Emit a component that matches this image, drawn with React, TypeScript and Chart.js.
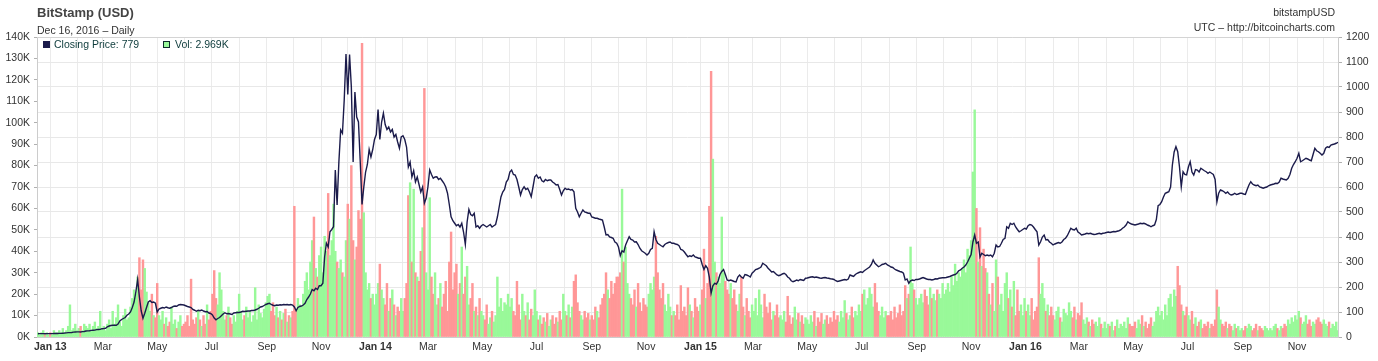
import { useEffect, useRef } from 'react';
import { Chart, registerables } from 'chart.js';

Chart.register(...registerables);

// Two-day bins starting Dec 17, 2012 (bin i covers days 2i and 2i+1)
// Closing price, USD
const close2013 = [
  13.1, 13.3, 13.4, 13.4, 13.3, 13.4, 13.5,
  13.4, 13.6, 13.8, 14.1, 14.2, 14.3, 14.5, 15.2, 15.8, 16.7, 17.4, 17.6, 17.9, 19.3, 19.8, 20.4,
  20.5, 20.3, 21.3, 22.0, 24.0, 24.7, 25.0, 26.5, 27.0, 27.6, 29.7, 30.2, 30.5, 33.2,
  34, 35, 41, 44, 46, 47, 47, 47, 52, 64, 70, 74, 78, 87, 92,
  100, 118, 140, 180, 230, 160, 105, 75, 95, 118, 140, 145, 138, 140, 135,
  100, 112, 115, 118, 116, 120, 117, 115, 118, 122, 124, 123, 128, 130, 129, 128,
  125, 122, 120, 118, 110, 107, 103, 107, 105, 108, 104, 101, 102, 96, 94,
  88, 76, 69, 74, 78, 85, 92, 97, 93, 94, 92, 90, 96, 97, 98,
  98, 100, 103, 102, 103, 104, 104, 106, 106, 108, 111, 115, 120, 122, 126, 130,
  133, 135, 130, 127, 125, 128, 127, 129, 128, 130, 129, 130, 128, 130, 128,
  120, 105, 118, 122, 124, 128, 135, 150, 160, 172, 190, 185, 195, 190, 205,
  205, 215, 321, 375, 360, 421, 430, 441, 668, 528, 700, 828, 815, 948, 1132,
  970, 1130, 1000, 700, 980, 880, 860, 700, 530, 600, 660, 690, 750, 720, 750, 790,
];
const close2014 = [
  810, 910, 790, 860, 895, 850, 830, 840, 820, 830, 800, 810, 780, 755, 800,
  805, 790, 760, 680, 700, 640, 665, 620, 640, 610, 580, 600, 535, 555,
  600, 668, 650, 635, 640, 641, 630, 635, 625, 615, 600, 575, 530, 481, 465, 455,
  445, 450, 440, 455, 420, 370, 460, 510, 490, 485, 495, 440, 445, 435, 445,
  450, 445, 440, 445, 450, 440, 445, 450, 480, 520, 560, 580, 590, 620, 630,
  660, 668, 650, 648, 630, 600, 568, 590, 601, 590, 595, 580, 561, 600, 641,
  648, 635, 640, 625, 621, 630, 625, 628, 628, 620, 615, 608, 610, 590, 568, 585,
  595, 590, 592, 588, 590, 581, 515, 500, 481, 495, 508, 500, 498, 495, 495,
  480, 478, 475, 475, 472, 470, 468, 440, 408, 410, 400, 398, 395, 380, 375,
  360, 325, 345, 340, 368, 385, 401, 390, 388, 380, 381, 370, 355, 345, 340, 335,
  328, 335, 350, 355, 421, 390, 375, 370, 365, 361, 370, 375, 378, 380, 375,
  375, 372, 370, 365, 350, 348, 340, 330, 321, 325, 322, 328, 320, 318, 315,
];
const close2015 = [
  315, 290, 270, 285, 275, 240, 175, 205, 215, 212, 225, 250, 262, 270, 250, 228,
  225, 228, 225, 222, 220, 240, 248, 240, 235, 250, 248, 245, 240, 255,
  262, 270, 272, 275, 280, 295, 290, 285, 275, 268, 260, 262, 255, 248, 245,
  248, 252, 255, 250, 240, 235, 225, 221, 224, 228, 225, 230, 228, 226, 235,
  236, 238, 240, 241, 238, 240, 238, 236, 235, 237, 238, 236, 235, 233, 232, 230,
  225, 222, 224, 226, 228, 230, 228, 232, 248, 245, 242, 250, 255, 258, 261,
  258, 265, 270, 275, 280, 290, 308, 295, 288, 281, 285, 290, 292, 295, 288,
  285, 280, 278, 272, 268, 265, 262, 260, 255, 228, 232, 215, 225, 228, 226, 230,
  230, 232, 235, 238, 235, 232, 230, 230, 228, 230, 233, 232, 235, 236, 237,
  237, 238, 240, 242, 245, 248, 250, 255, 265, 268, 275, 280, 288, 300, 315,
  330, 380, 408, 375, 380, 320, 335, 330, 325, 328, 325, 328, 321, 335, 368,
  360, 362, 375, 390, 395, 441, 435, 455, 450, 455, 440, 430, 421, 425, 430, 435,
];
const close2016 = [
  432, 445, 450, 448, 440, 430, 421, 368, 381, 400, 408, 388, 390, 380, 375,
  368, 372, 375, 378, 375, 380, 390, 395, 405, 420, 435, 430, 428, 435, 420,
  415, 408, 410, 412, 415, 413, 415, 412, 410, 411, 413, 415, 412, 415, 416,
  418, 420, 418, 420, 422, 421, 423, 425, 428, 435, 440, 448, 461, 455, 452,
  450, 448, 450, 452, 455, 453, 455, 452, 448, 445, 441, 445, 448, 470, 525, 530,
  541, 560, 575, 578, 581, 600, 688, 740, 761, 741, 680, 601, 661, 650, 648,
  680, 701, 660, 648, 670, 668, 660, 675, 670, 665, 661, 655, 660, 655, 650,
  630, 541, 575, 588, 585, 581, 575, 580, 572, 568, 570, 575, 570, 572, 575, 575,
  572, 570, 590, 608, 621, 612, 608, 605, 608, 600, 598, 595, 598, 600, 605,
  608, 610, 612, 615, 614, 620, 635, 632, 630, 628, 635, 650, 675, 690, 701,
  715, 735, 701, 705, 710, 715, 712, 708, 705, 730, 755, 745, 741, 735, 728,
  735, 755, 761, 758, 768, 770, 772, 775, 779,
];

// Volume, thousands of BTC
const vol2013 = [
  2, 1, 2, 3, 1, 2, 1,
  2, 1, 3, 2, 2, 3, 2, 4, 2, 3, 5, 15, 3, 4, 6, 3,
  4, 5, 3, 6, 5, 4, 6, 3, 5, 7, 4, 5, 12, 4,
  5, 3, 6, 8, 4, 12, 6, 9, 15, 7, 5, 10, 13, 8, 9,
  14, 18, 22, 20, 28, 37, 22, 36, 32, 21, 16, 12, 20, 10, 9,
  25, 10, 8, 12, 6, 9, 5, 7, 14, 6, 8, 4, 7, 10, 5, 6,
  7, 10, 5, 27, 8, 6, 9, 12, 8, 5, 10, 6, 15, 8, 12,
  20, 31, 18, 15, 30, 22, 12, 8, 10, 14, 9, 6, 10, 7, 12,
  20, 12, 8, 10, 14, 9, 12, 7, 10, 23, 8, 15, 11, 9, 13, 16,
  19, 20, 12, 16, 10, 14, 9, 12, 8, 11, 13, 7, 10, 9, 12,
  61, 12, 18, 15, 14, 20, 26, 30, 22, 35, 45, 56, 32, 28, 38,
  42, 30, 47, 40, 67, 38, 45, 62, 40, 35, 32, 36, 30, 28, 45,
  62, 55, 80, 45, 36, 42, 59, 55, 137, 58, 30, 22, 25, 18, 20, 15,
];
const vol2014 = [
  20, 25, 34, 22, 18, 15, 25, 12, 18, 22, 15, 10, 14, 12, 18,
  12, 18, 25, 66, 72, 35, 69, 30, 28, 26, 40, 51, 116, 30,
  22, 65, 28, 20, 30, 15, 18, 25, 14, 20, 26, 12, 35, 49, 22, 30,
  34, 20, 25, 42, 20, 28, 33, 15, 18, 25, 12, 14, 10, 18, 12,
  10, 8, 15, 6, 9, 12, 7, 10, 28, 14, 18, 12, 16, 15, 20,
  14, 18, 12, 10, 26, 15, 8, 20, 12, 10, 16, 8, 13, 10, 22,
  12, 8, 10, 6, 9, 7, 11, 5, 8, 10, 6, 9, 7, 12, 8, 20,
  12, 10, 15, 9, 14, 26, 29, 16, 12, 10, 8, 12, 9, 11, 8,
  10, 8, 14, 12, 9, 15, 18, 20, 30, 22, 18, 26, 20, 25, 28,
  28, 30, 69, 35, 42, 25, 20, 18, 15, 22, 14, 25, 16, 12, 18, 15,
  14, 20, 25, 22, 28, 47, 30, 22, 18, 25, 15, 12, 20, 14, 10,
  12, 10, 15, 8, 24, 12, 14, 10, 23, 15, 12, 9, 18, 14, 12,
];
const vol2015 = [
  15, 22, 41, 18, 25, 61, 124, 83, 35, 30, 28, 25, 56, 30, 26, 22,
  20, 25, 18, 22, 15, 12, 20, 28, 14, 10, 18, 12, 9, 15,
  12, 18, 10, 22, 15, 9, 20, 14, 11, 16, 8, 12, 10, 15, 9,
  10, 8, 12, 7, 19, 10, 6, 9, 14, 8, 11, 7, 10, 6, 9,
  8, 6, 10, 7, 12, 5, 9, 7, 11, 6, 8, 10, 6, 9, 7, 12,
  8, 10, 7, 12, 9, 17, 11, 8, 10, 14, 9, 12, 10, 15, 12,
  20, 22, 15, 18, 23, 20, 14, 25, 16, 12, 10, 14, 9, 12, 10,
  10, 12, 8, 14, 9, 11, 15, 10, 12, 24, 18, 20, 42, 25, 22, 18,
  15, 18, 20, 16, 22, 19, 15, 23, 18, 20, 17, 22, 20, 18, 25,
  20, 22, 25, 21, 28, 24, 34, 26, 30, 28, 32, 36, 30, 41, 38,
  45, 77, 106, 60, 35, 51, 33, 41, 32, 30, 20, 15, 25, 12, 36,
  28, 15, 20, 12, 25, 30, 18, 22, 14, 26, 10, 22, 12, 15, 10, 18,
];
const vol2016 = [
  12, 15, 10, 18, 8, 12, 14, 37, 20, 25, 18, 12, 15, 10, 14,
  10, 8, 12, 14, 9, 7, 13, 11, 10, 16, 12, 9, 14, 8, 11,
  10, 16, 8, 6, 9, 7, 5, 8, 6, 7, 5, 9, 6, 4, 7,
  4, 6, 5, 7, 3, 5, 8, 4, 6, 5, 7, 4, 9, 6, 5,
  5, 7, 4, 8, 6, 10, 5, 7, 4, 6, 9, 5, 7, 12, 14, 10,
  12, 8, 15, 10, 18, 20, 14, 22, 19, 33, 24, 15, 12, 10, 14,
  10, 8, 12, 6, 9, 5, 7, 8, 4, 6, 5, 7, 4, 6, 5,
  8, 22, 14, 8, 6, 5, 7, 4, 6, 5, 3, 6, 4, 5, 3, 4,
  3, 5, 4, 6, 5, 3, 4, 6, 3, 5, 4, 3, 5, 4, 3,
  4, 3, 5, 6, 4, 3, 5, 4, 6, 5, 8, 6, 9, 7, 10,
  8, 12, 9, 6, 7, 10, 6, 8, 5, 7, 6, 8, 9, 7, 6,
  8, 6, 5, 7, 4, 6, 5, 7, 3,
];

const volTicksK = [0, 140, 10];
const priceTicks = [0, 1200, 100];
const monthNames = ['Jan', 'Feb', 'Mar', 'Apr', 'May', 'Jun', 'Jul', 'Aug', 'Sep', 'Oct', 'Nov', 'Dec'];
const titleText = 'BitStamp (USD)';
const subtitleText = 'Dec 16, 2016 \u2013 Daily';
const rightTop = 'bitstampUSD';
const rightSub = 'UTC \u2013 http://bitcoincharts.com';
const legendPrice = 'Closing Price: 779';
const legendVol = 'Vol: 2.969K';

const FONT = '"Liberation Sans", Arial, Helvetica, sans-serif';
const NAVY = '#1b1b4b';
const GREEN = '#99f999';
const RED = '#ff9797';
const W = 1378;
const H = 361;

const START = Date.UTC(2012, 11, 17);
const DAY = 86400000;
const AXIS_END = 1461;

const monthTicks: { value: number; label: string; bold: boolean }[] = [];
for (let y = 2013; y <= 2016; y++) {
  for (let m = 0; m < 12; m++) {
    const d = (Date.UTC(y, m, 1) - START) / DAY;
    if (d <= AXIS_END) {
      const label = m % 2 === 0 ? (m === 0 ? `Jan ${String(y).slice(2)}` : monthNames[m]) : '';
      monthTicks.push({ value: d, label, bold: m === 0 });
    }
  }
}
const labelMap = new Map(monthTicks.map((t) => [t.value, t]));

export default function App() {
  const ref = useRef<HTMLCanvasElement | null>(null);

  useEffect(() => {
    if (!ref.current) return;
    const closes = [...close2013, ...close2014, ...close2015, ...close2016];
    const vols = [...vol2013, ...vol2014, ...vol2015, ...vol2016];
    const pricePts = closes.map((c, i) => ({ x: 2 * i + 1, y: c }));
    const volPts = vols.map((v, i) => ({ x: 2 * i + 1, y: v }));
    const volColors = closes.map((c, i) => (i === 0 || c >= closes[i - 1] ? GREEN : RED));

    const header = {
      id: 'header',
      afterDraw(chart: any) {
        const ctx = chart.ctx as CanvasRenderingContext2D;
        const a = chart.chartArea;
        ctx.save();
        ctx.strokeStyle = '#d4d4d4';
        ctx.lineWidth = 1;
        ctx.beginPath();
        ctx.moveTo(a.left, a.top + 0.5);
        ctx.lineTo(a.right, a.top + 0.5);
        ctx.stroke();

        ctx.textBaseline = 'alphabetic';
        ctx.textAlign = 'left';
        ctx.fillStyle = '#444';
        ctx.font = `bold 13px ${FONT}`;
        ctx.fillText(titleText, 37, 17);
        ctx.fillStyle = '#333';
        ctx.font = `10.5px ${FONT}`;
        ctx.fillText(subtitleText, 37, 34);
        ctx.textAlign = 'right';
        ctx.fillText(rightTop, 1335, 16);
        ctx.fillText(rightSub, 1335, 31);

        ctx.textAlign = 'left';
        ctx.fillStyle = NAVY;
        ctx.fillRect(43, 41, 7, 7);
        ctx.fillStyle = '#0d3b3b';
        ctx.fillText(legendPrice, 54, 48);
        ctx.fillStyle = GREEN;
        ctx.fillRect(163, 41, 7, 7);
        ctx.strokeStyle = '#0d2b2b';
        ctx.strokeRect(163.5, 41.5, 6, 6);
        ctx.fillStyle = '#0d3b3b';
        ctx.fillText(legendVol, 175, 48);
        ctx.restore();
      },
    };

    const chart = new Chart(ref.current, {
      type: 'bar',
      data: {
        datasets: [
          {
            type: 'line',
            data: pricePts as any,
            yAxisID: 'yPrice',
            borderColor: NAVY,
            borderWidth: 1.4,
            pointRadius: 0,
            tension: 0,
            order: 0,
          } as any,
          {
            type: 'bar',
            data: volPts as any,
            yAxisID: 'yVol',
            backgroundColor: volColors,
            borderWidth: 0,
            barPercentage: 1,
            categoryPercentage: 1,
            order: 1,
          } as any,
        ],
      },
      options: {
        animation: false,
        responsive: false,
        maintainAspectRatio: false,
        layout: { padding: { top: 37, left: 0, right: 0, bottom: 0 } },
        plugins: { legend: { display: false }, tooltip: { enabled: false } },
        scales: {
          x: {
            type: 'linear',
            offset: false,
            min: 0,
            max: AXIS_END,
            afterBuildTicks: (scale: any) => {
              scale.ticks = monthTicks.map((t) => ({ value: t.value }));
            },
            afterFit: (scale: any) => {
              scale.height = 24;
            },
            grid: { color: '#ebebeb', drawTicks: false, offset: false },
            border: { color: '#cccccc' },
            ticks: {
              autoSkip: false,
              maxRotation: 0,
              padding: 4,
              color: '#333',
              callback: (v: any) => labelMap.get(Number(v))?.label ?? '',
              font: (ctx: any) => ({
                family: FONT,
                size: 10.5,
                weight: labelMap.get(ctx.tick?.value)?.bold ? 'bold' : 'normal',
              }),
            },
          } as any,
          yVol: {
            position: 'left',
            min: volTicksK[0],
            max: volTicksK[1],
            afterFit: (scale: any) => {
              scale.width = 37;
            },
            grid: { drawOnChartArea: false, tickLength: 3, tickColor: '#b0b0b0' },
            border: { color: '#cccccc' },
            ticks: {
              stepSize: volTicksK[2],
              padding: 4,
              color: '#333',
              font: { family: FONT, size: 10.5 },
              callback: (v: any) => `${v}K`,
            },
          } as any,
          yPrice: {
            position: 'right',
            min: priceTicks[0],
            max: priceTicks[1],
            afterFit: (scale: any) => {
              scale.width = 40;
            },
            grid: { color: '#e8e8e8', tickLength: 4, tickColor: '#b0b0b0' },
            border: { color: '#cccccc' },
            ticks: {
              stepSize: priceTicks[2],
              padding: 4,
              color: '#333',
              font: { family: FONT, size: 10.5 },
              callback: (v: any) => String(v),
            },
          } as any,
        },
      },
      plugins: [header],
    });
    return () => chart.destroy();
  }, []);

  return (
    <div style={{ position: 'absolute', left: 0, top: 0, width: W, height: H, background: '#fff' }}>
      <canvas ref={ref} width={W} height={H} style={{ width: W, height: H, display: 'block' }} />
    </div>
  );
}
